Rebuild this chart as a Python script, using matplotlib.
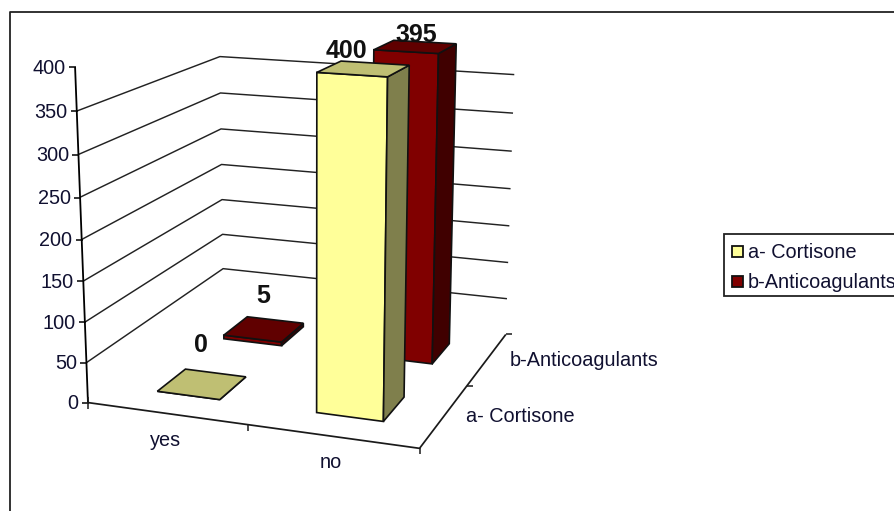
import numpy as np
import matplotlib
matplotlib.use("Agg")
import matplotlib.pyplot as plt
from matplotlib.patches import Polygon, Rectangle

plt.rcParams['font.family'] = ['Liberation Sans', 'DejaVu Sans']

# ---- data
categories = ["yes", "no"]
series_names = ["a- Cortisone", "b-Anticoagulants"]
cortisone = [0, 400]
anticoagulants = [5, 395]
ticks = [0, 50, 100, 150, 200, 250, 300, 350, 400]
grid_values = [50, 100, 150, 200, 250, 300, 350]

# ---- calibration of the 3-D frame: (category, series, value) -> pixel
frame_3d = [(0,0,0),(2,0,0),(2,2,0),(0,2,0),(0,0,400),(0,0,200),(0,0,100),(0,0,300),
            (0,2,350),(0,2,150),(2,2,350),(2,2,150),(0,2,50),(2,2,50),
            (1.3,0.3,400),(1.3,0.3,0),(1.7,0.3,0)]
frame_px = [(88,402),(420,449),(506,334),(224,304),(75,68),(81,239),(85,321),(78.5,155),
            (220,56),(222,199),(515,75),(508,226),(223,269),(507,298),
            (317,72),(317,413),(383,421.5)]

def fit_camera(pts3, pts2):
    A, b = [], []
    for (x, y, z), (u, v) in zip(pts3, pts2):
        z = z / 100
        A.append([x, y, z, 1, 0, 0, 0, 0, -u*x, -u*y, -u*z]); b.append(u)
        A.append([0, 0, 0, 0, x, y, z, 1, -v*x, -v*y, -v*z]); b.append(v)
    p = np.linalg.lstsq(np.array(A, float), np.array(b, float), rcond=None)[0]
    return np.append(p, 1).reshape(3, 4)

P = fit_camera(frame_3d, frame_px)

def proj(x, y, z):
    h = P @ np.array([x, y, z / 100, 1.0])
    return h[0] / h[2], h[1] / h[2]

fig = plt.figure(figsize=(8.94, 5.11), dpi=100)
ax = fig.add_axes([0, 0, 1, 1])
ax.set_xlim(0, 894)
ax.set_ylim(511, 0)
ax.axis("off")

LINE = "#1a1a1a"
TEXT = "#101030"
FS = 14.3

def line(pts, lw=1.0, color=LINE, z=1):
    ax.plot(*zip(*pts), color=color, lw=lw, solid_capstyle="butt", zorder=z)

# chart-area border (right and bottom edges lie outside the picture)
line([(9.5, 511), (9.5, 12.5), (894, 12.5)], lw=1.3, color="#222222")

# gridlines on the two walls
for v in grid_values:
    line([proj(0, 0, v), proj(0, 2, v), proj(2, 2, v)], lw=1.05, color="#222222")

# axes
line([proj(0, 0, 0), proj(0, 0, 400)], lw=1.3, color="black")
line([proj(0, 0, 0), proj(2, 0, 0), proj(2, 2, 0)], lw=1.25)
for v in ticks:
    x0, y0 = proj(0, 0, v)
    line([(x0 - 6, y0 + 0.3), (x0 + 1, y0 + 0.3)], lw=1.1, color="black")
    ax.text(x0 - 9.5, y0 + 1, str(v), ha="right", va="center", fontsize=FS, color=TEXT)
# category ticks
for c in [0, 1, 2]:
    x0, y0 = proj(c, 0, 0)
    line([(x0, y0 - (6 if c == 0 else 0)), (x0, y0 + 6)], lw=1.1)
for s in [1, 2]:
    x0, y0 = proj(2, s, 0)
    line([(x0, y0), (x0 + 6, y0)], lw=1.1)

ax.text(166, 441, categories[0], ha="center", va="center", fontsize=FS, color=TEXT)
ax.text(331, 463, categories[1], ha="center", va="center", fontsize=FS, color=TEXT)
ax.text(466, 417, series_names[0], ha="left", va="center", fontsize=FS, color=TEXT)
ax.text(510, 361, series_names[1], ha="left", va="center", fontsize=FS, color=TEXT)

# bars
colors = [("#FFFF99", "#7F7F4C", "#BFBF73"), ("#800000", "#400000", "#600000")]
W0, W1 = 0.3, 0.7
zo = 5
def bar(c, s, val, cols):
    global zo
    x0, x1, y0, y1 = c + W0, c + W1, s + W0, s + W1
    front = [proj(x0, y0, 0), proj(x1, y0, 0), proj(x1, y0, val), proj(x0, y0, val)]
    side = [proj(x1, y0, 0), proj(x1, y1, 0), proj(x1, y1, val), proj(x1, y0, val)]
    top = [proj(x0, y0, val), proj(x1, y0, val), proj(x1, y1, val), proj(x0, y1, val)]
    for pts, col in zip((front, side, top), cols):
        ax.add_patch(Polygon(pts, closed=True, fc=col, ec="#111111", lw=1.2, zorder=zo))
    zo += 1

all_values = [cortisone, anticoagulants]
for c in range(2):
    for s in (1, 0):
        bar(c, s, all_values[s][c], colors[s])

# value labels
label_offsets = {(0, 0): (-1, -39), (0, 1): (-1, -33), (1, 0): (-17, -18), (1, 1): (1, -12)}
for s, vals in enumerate(all_values):
    for c, val in enumerate(vals):
        px, py = proj(c + 0.5, s + 0.5, val)
        dx, dy = label_offsets[(c, s)]
        ax.text(px + dx, py + dy, str(val), ha="center", va="center", fontsize=18,
                fontweight="bold", color="#111111", zorder=30)

# legend
ax.add_patch(Rectangle((723.5, 234.5), 260, 62, fc="white", ec="#222222", lw=1.3, zorder=20))
for yc, col, name in zip((252, 282), (colors[0][0], colors[1][0]), series_names):
    ax.add_patch(Rectangle((732, yc - 5.5), 11, 11, fc=col, ec="#111111", lw=1.3, zorder=21))
    ax.text(748, yc, name, ha="left", va="center", fontsize=FS, color=TEXT, zorder=21)

fig.savefig("out.png", dpi=100, facecolor="white")
